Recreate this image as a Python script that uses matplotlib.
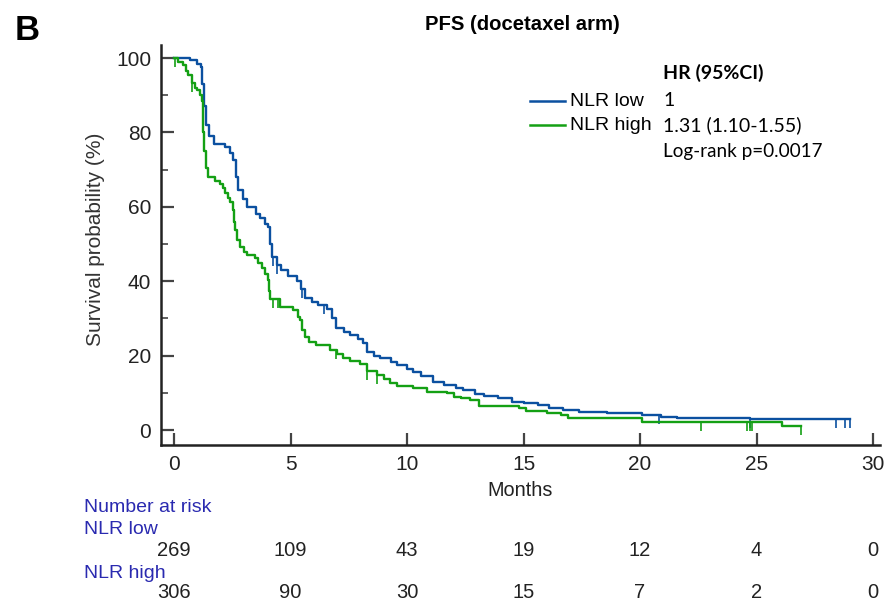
import numpy as np
import matplotlib
matplotlib.use('Agg')
import matplotlib.pyplot as plt
from matplotlib.lines import Line2D
from matplotlib.transforms import blended_transform_factory

# Kaplan-Meier steps (months, survival %)
low_t = [0, 0.7, 1.0, 1.16, 1.22, 1.3, 1.38, 1.5, 1.7, 2.2, 2.4, 2.53, 2.65, 2.75, 2.95,
         3.13, 3.5, 3.7, 3.9, 4.03, 4.1, 4.2, 4.4, 4.6, 4.9, 5.28, 5.45, 5.6, 5.9, 6.2,
         6.55, 6.8, 6.95, 7.3, 7.55, 7.9, 8.1, 8.3, 8.6, 8.85, 9.3, 9.57, 10.0, 10.26,
         10.6, 11.1, 11.6, 12.1, 12.4, 12.9, 13.3, 13.9, 14.5, 15.0, 15.6, 16.1, 16.7,
         17.4, 18.6, 20.1, 20.9, 21.6, 24.7, 29.0]
low_s = [100, 99.5, 98.5, 97.5, 93, 87, 82, 79, 77, 76, 74.5, 72.5, 68, 64.5, 62,
         60, 58, 57, 55.5, 54.5, 50, 46.5, 44.5, 43, 41.5, 40, 38, 35.5, 34.5, 33.5,
         32.5, 30, 27.5, 26.5, 25.5, 24.5, 23.5, 21, 20, 19.4, 18.3, 17.5, 16.5, 15.6,
         14.5, 13, 12, 11.3, 10.8, 9.6, 9.1, 8.6, 7.6, 7.2, 6.7, 5.9, 5.4,
         4.9, 4.6, 4.0, 3.5, 3.2, 3.0, 3.0]
low_cens = [4.25, 4.4, 5.5, 6.45, 20.8, 24.7, 28.4, 28.8, 29.0]

high_t = [0, 0.17, 0.4, 0.5, 0.6, 0.77, 0.9, 1.0, 1.1, 1.2, 1.25, 1.3, 1.35, 1.46, 1.76,
          1.97, 2.1, 2.2, 2.3, 2.4, 2.53, 2.57, 2.6, 2.7, 2.83, 3.0, 3.13, 3.48, 3.6,
          3.78, 3.9, 4.03, 4.08, 4.12, 4.55, 5.1, 5.3, 5.4, 5.5, 5.6, 5.8, 6.1, 6.7,
          7.0, 7.25, 7.55, 8.0, 8.3, 8.7, 9.0, 9.27, 9.57, 10.26, 10.86, 11.7, 12.0,
          12.3, 12.7, 13.1, 14.8, 15.1, 16.0, 16.6, 16.9, 20.1, 26.1, 26.9]
high_s = [100, 99, 98, 96.5, 95.4, 93.3, 92, 91.4, 90, 88.5, 80, 75, 70.5, 68, 67,
          66.2, 65, 63.7, 62.3, 61.3, 59.1, 56, 53.8, 51, 49.2, 48, 47, 46.2, 45,
          43.5, 42, 40.3, 37.5, 35.3, 33, 32.3, 30.5, 29.6, 27, 25, 23.8, 22.8, 21.5,
          20.5, 19.4, 18.5, 17.7, 15.8, 14.8, 13.8, 12.6, 11.8, 11.2, 10.2, 9.9, 9.0,
          8.5, 8.0, 6.5, 5.9, 5.1, 4.6, 4.0, 3.2, 2.2, 1.1, 1.1]
high_cens = [0.05, 0.77, 4.25, 4.46, 6.95, 8.3, 8.7, 22.6, 24.6, 24.7, 24.8, 26.9]

risk_times = [0, 5, 10, 15, 20, 25, 30]
risk_low = [269, 109, 43, 19, 12, 4, 0]
risk_high = [306, 90, 30, 15, 7, 2, 0]

blue = '#0b50a0'
green = '#14a014'
navy = '#2a2ab0'
sans = ['Liberation Sans', 'DejaVu Sans']

W, H = 888, 602
def fx(x):
    return x / W
def fy(y):
    return 1 - y / H

fig = plt.figure(figsize=(8.88, 6.02), dpi=100)
ax = fig.add_axes([fx(161), fy(445), (880 - 161) / W, (445 - 45) / H])

for t, s, c, col in [(low_t, low_s, low_cens, blue), (high_t, high_s, high_cens, green)]:
    t = np.array(t)
    s = np.array(s)
    ax.step(t, s, where='post', color=col, lw=1.7)
    idx = np.searchsorted(t, c, side='right') - 1
    ax.plot(c, s[idx], ls='none', marker=3, ms=6.5, mew=1.2, color=col)

ax.set_xlim(-0.56, 30.3)
ax.set_ylim(-4.0, 103.5)
ax.set_xticks(risk_times)
ax.set_yticks(range(0, 101, 20))
ax.set_yticks(range(10, 100, 20), minor=True)
ax.spines['top'].set_visible(False)
ax.spines['right'].set_visible(False)
for sp in ['left', 'bottom']:
    ax.spines[sp].set_linewidth(1.8)
    ax.spines[sp].set_color('#222222')
ax.tick_params(which='major', direction='in', length=9, width=1.6, color='#444444',
               labelsize=15, labelcolor='#222222', pad=7)
ax.tick_params(which='minor', direction='in', length=5, width=1.2, color='#444444')
for lab in ax.get_xticklabels() + ax.get_yticklabels():
    lab.set_family(sans)

ax.set_xlabel('Months', family=sans, fontsize=14.3, color='#222222', labelpad=5)
ax.set_ylabel('Survival probability (%)', family=sans, fontsize=15, color='#333333')
ax.yaxis.set_label_coords(-0.078, 0.515)

fig.text(fx(27), fy(30), 'B', family='Liberation Sans', weight='bold', fontsize=25,
         ha='center', va='center')
fig.text(fx(522), fy(24), 'PFS (docetaxel arm)', family=sans, weight='bold', fontsize=14.6,
         ha='center', va='center')

# legend
for y, col, name in [(101, blue, 'NLR low'), (125, green, 'NLR high')]:
    fig.add_artist(Line2D([fx(530), fx(565)], [fy(y), fy(y)], color=col, lw=1.8))
    fig.text(fx(570), fy(y), name, family=sans, fontsize=14, ha='left', va='center')

fig.text(fx(663), fy(73), 'HR (95%CI)', family='Lato', weight='bold', fontsize=14,
         ha='left', va='center')
fig.text(fx(663), fy(101), '1', family='Lato', fontsize=14, ha='left', va='center')
fig.text(fx(663), fy(125), '1.31 (1.10-1.55)', family='Lato', fontsize=14, ha='left', va='center')
fig.text(fx(663), fy(151), 'Log-rank p=0.0017', family='Lato', fontsize=13.6, ha='left', va='center')

# number at risk table
fig.text(fx(84), fy(507), 'Number at risk', family=sans, fontsize=14, color=navy,
         ha='left', va='center')
fig.text(fx(84), fy(530), 'NLR low', family=sans, fontsize=14, color=navy,
         ha='left', va='center')
fig.text(fx(84), fy(573), 'NLR high', family=sans, fontsize=14, color=navy,
         ha='left', va='center')
tr = blended_transform_factory(ax.transData, fig.transFigure)
for x, a, b in zip(risk_times, risk_low, risk_high):
    ax.text(x, fy(551), str(a), transform=tr, family=sans, fontsize=14.5,
            color='#222222', ha='center', va='center', clip_on=False)
    ax.text(x, fy(592), str(b), transform=tr, family=sans, fontsize=14.5,
            color='#222222', ha='center', va='center', clip_on=False)

fig.savefig('out.png', dpi=100)
